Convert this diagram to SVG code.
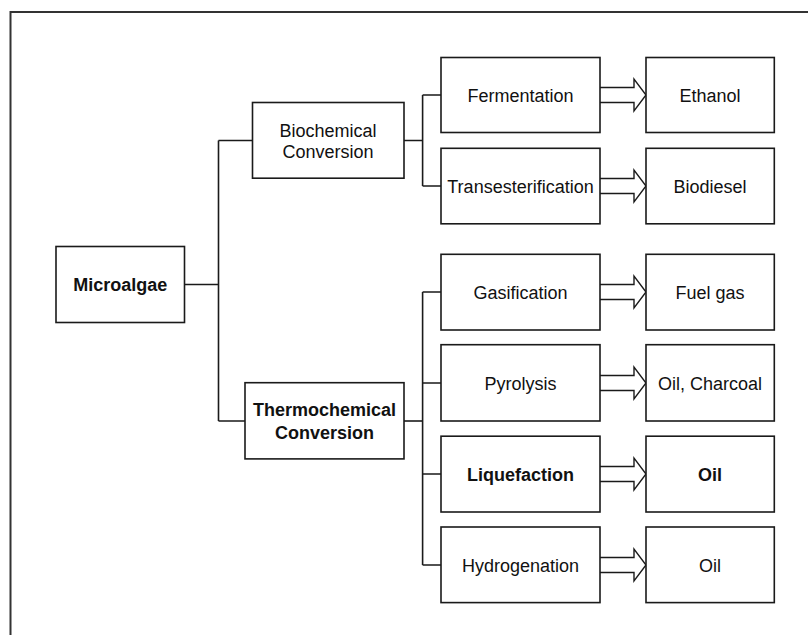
<svg xmlns="http://www.w3.org/2000/svg" width="808" height="635" viewBox="0 0 808 635">
<style>
.box{fill:#fff;stroke:#1a1a1a;stroke-width:1.6}
.t{font-family:"Liberation Sans",Arial,sans-serif;font-size:18px;fill:#111;text-anchor:middle}
.b{font-weight:bold}
.c{fill:none;stroke:#1a1a1a;stroke-width:1.6}
.arr{fill:#fff;stroke:#1a1a1a;stroke-width:1.4;stroke-linejoin:miter}
</style>
<rect x="0" y="0" width="808" height="635" fill="#fff"/>
<path d="M10.5,635 V12 H808" fill="none" stroke="#333" stroke-width="2"/>
<g id="connectors">
<path class="c" d="M184.5,284.5 H218.5 M218.5,140.5 V421 M218.5,140.5 H252.5 M218.5,421 H245"/>
<path class="c" d="M404,140.5 H422.6 M422.6,95 V186 M422.6,95 H441 M422.6,186 H441"/>
<path class="c" d="M404,421 H422.6" stroke-width="2.6"/>
<path class="c" d="M422.6,292 V565 M422.6,292 H441 M422.6,383 H441 M422.6,474 H441 M422.6,565 H441"/>
<path class="arr" d="M600,87.5 H634 V79 L646,95 L634,111 V102.5 H600"/>
<path class="arr" d="M600,178.5 H634 V170 L646,186 L634,202 V193.5 H600"/>
<path class="arr" d="M600,284.5 H634 V276 L646,292 L634,308 V299.5 H600"/>
<path class="arr" d="M600,375.5 H634 V367 L646,383 L634,399 V390.5 H600"/>
<path class="arr" d="M600,466.5 H634 V458 L646,474 L634,490 V481.5 H600"/>
<path class="arr" d="M600,557.5 H634 V549 L646,565 L634,581 V572.5 H600"/>
</g>
<g id="microalgae"><rect class="box" x="56" y="246.5" width="128.5" height="76"/><text class="t b" x="120.2" y="291">Microalgae</text></g>
<g id="biochemical"><rect class="box" x="252.5" y="102.5" width="151.5" height="75.7"/><text class="t" x="328" y="136.5">Biochemical</text><text class="t" x="328" y="158.3">Conversion</text></g>
<g id="thermochemical"><rect class="box" x="245" y="382.7" width="159" height="76.2"/><text class="t b" x="324.5" y="416">Thermochemical</text><text class="t b" x="324.5" y="439">Conversion</text></g>
<g id="fermentation"><rect class="box" x="441" y="57.5" width="159" height="75"/><text class="t" x="520.5" y="101.5">Fermentation</text></g>
<g id="transesterification"><rect class="box" x="441" y="148.3" width="159" height="75.5"/><text class="t" x="520.5" y="192.5">Transesterification</text></g>
<g id="gasification"><rect class="box" x="441" y="254.3" width="159" height="75.7"/><text class="t" x="520.5" y="298.5">Gasification</text></g>
<g id="pyrolysis"><rect class="box" x="441" y="344.7" width="159" height="76.3"/><text class="t" x="520.5" y="389.5">Pyrolysis</text></g>
<g id="liquefaction"><rect class="box" x="441" y="436.2" width="159" height="75.8"/><text class="t b" x="520.5" y="480.5">Liquefaction</text></g>
<g id="hydrogenation"><rect class="box" x="441" y="527" width="159" height="75.6"/><text class="t" x="520.5" y="571.5">Hydrogenation</text></g>
<g id="ethanol"><rect class="box" x="646" y="57.5" width="128.3" height="75"/><text class="t" x="710" y="101.5">Ethanol</text></g>
<g id="biodiesel"><rect class="box" x="646" y="148.3" width="128.3" height="75.5"/><text class="t" x="710" y="192.5">Biodiesel</text></g>
<g id="fuelgas"><rect class="box" x="646" y="254.3" width="128.3" height="75.7"/><text class="t" x="710" y="298.5">Fuel gas</text></g>
<g id="oilcharcoal"><rect class="box" x="646" y="344.7" width="128.3" height="76.3"/><text class="t" x="710" y="389.5">Oil, Charcoal</text></g>
<g id="oil1"><rect class="box" x="646" y="436.2" width="128.3" height="75.8"/><text class="t b" x="710" y="480.5">Oil</text></g>
<g id="oil2"><rect class="box" x="646" y="527" width="128.3" height="75.6"/><text class="t" x="710" y="571.5">Oil</text></g>
</svg>
